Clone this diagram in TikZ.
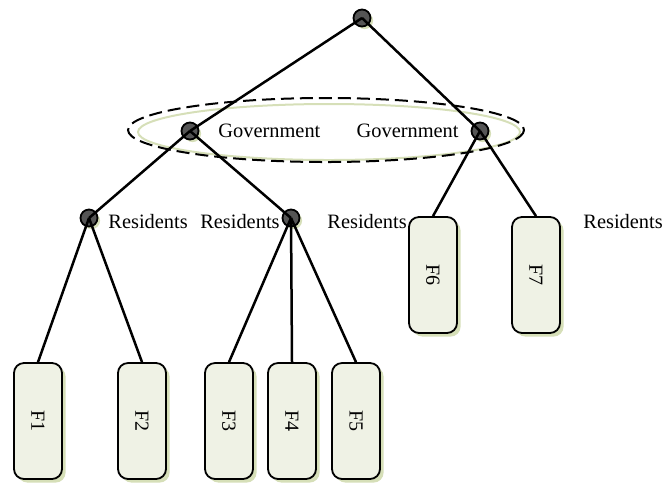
\documentclass[tikz,border=0pt]{standalone}
\usepackage{fontspec}
\setmainfont{Liberation Serif}
\usetikzlibrary{shadows,positioning}
\usepackage{graphicx}

\newcommand{\vlabel}[1]{\rotatebox{-90}{#1}}

\begin{document}
\begin{tikzpicture}[x=0.5pt,y=-0.5pt,
  player/.style={circle,draw,fill=dark grey,line width=0.9pt,minimum size=8.5pt,inner sep=0,
    general shadow={fill=shadow green,shadow xshift=1.3pt,shadow yshift=-1.3pt}},
  firm/.style={draw,fill=light green,rounded corners=5pt,line width=0.9pt,minimum width=24pt,
    minimum height=58pt,inner sep=0,
    general shadow={fill=shadow green,shadow xshift=1.8pt,shadow yshift=-1.8pt}},
  tag/.style={inner sep=0,font=\fontsize{10.2}{12}\selectfont},
  branch/.style={line width=1.25pt},
]
  \definecolor{dark grey}{HTML}{555555}
  \definecolor{light green}{HTML}{EFF2E5}
  \definecolor{shadow green}{HTML}{D6DFB8}
  \useasboundingbox (0,0) rectangle (662,484);

  % coalition
  \draw[shadow green,line width=1pt] (329,132) ellipse [x radius=191,y radius=28];
  \draw[dashed,dash pattern=on 6.5pt off 3pt,line width=1pt] (326,130) ellipse [x radius=198,y radius=32];

  % players
  \node[player] (root) at (362,18) {};
  \node[player] (gov1) at (190,131) {};
  \node[player] (gov2) at (480,131) {};
  \node[player] (res1) at (89,218) {};
  \node[player] (res2) at (291,218) {};

  % firms
  \node[firm] (f1) at (38,421) {\vlabel{F1}};
  \node[firm] (f2) at (142,421) {\vlabel{F2}};
  \node[firm] (f3) at (229,421) {\vlabel{F3}};
  \node[firm] (f4) at (292,421) {\vlabel{F4}};
  \node[firm] (f5) at (356,421) {\vlabel{F5}};
  \node[firm] (f6) at (433,275) {\vlabel{F6}};
  \node[firm] (f7) at (536,275) {\vlabel{F7}};

  % labels
  \node[tag,anchor=west] (g1lab) at (218,131) {Government};
  \node[tag,anchor=east] (g2lab) at (459,131) {Government};
  \node[tag,anchor=west] (r1lab) at (108,222) {Residents};
  \node[tag,anchor=east] (r2lab) at (280,222) {Residents};
  \node[tag,anchor=west] (r3lab) at (327,222) {Residents};
  \node[tag,anchor=west] (r4lab) at (583,222) {Residents};

  % edges
  \draw[branch] (root.center) -- (gov1.center);
  \draw[branch] (root.center) -- (gov2.center);
  \draw[branch] (gov1.center) -- (res1.center);
  \draw[branch] (gov1.center) -- (res2.center);
  \draw[branch] (res1.center) -- (f1.north);
  \draw[branch] (res1.center) -- (f2.north);
  \draw[branch] (res2.center) -- (f3.north);
  \draw[branch] (res2.center) -- (f4.north);
  \draw[branch] (res2.center) -- (f5.north);
  \draw[branch] (gov2.center) -- (f6.north);
  \draw[branch] (gov2.center) -- (f7.north);
\end{tikzpicture}
\end{document}
